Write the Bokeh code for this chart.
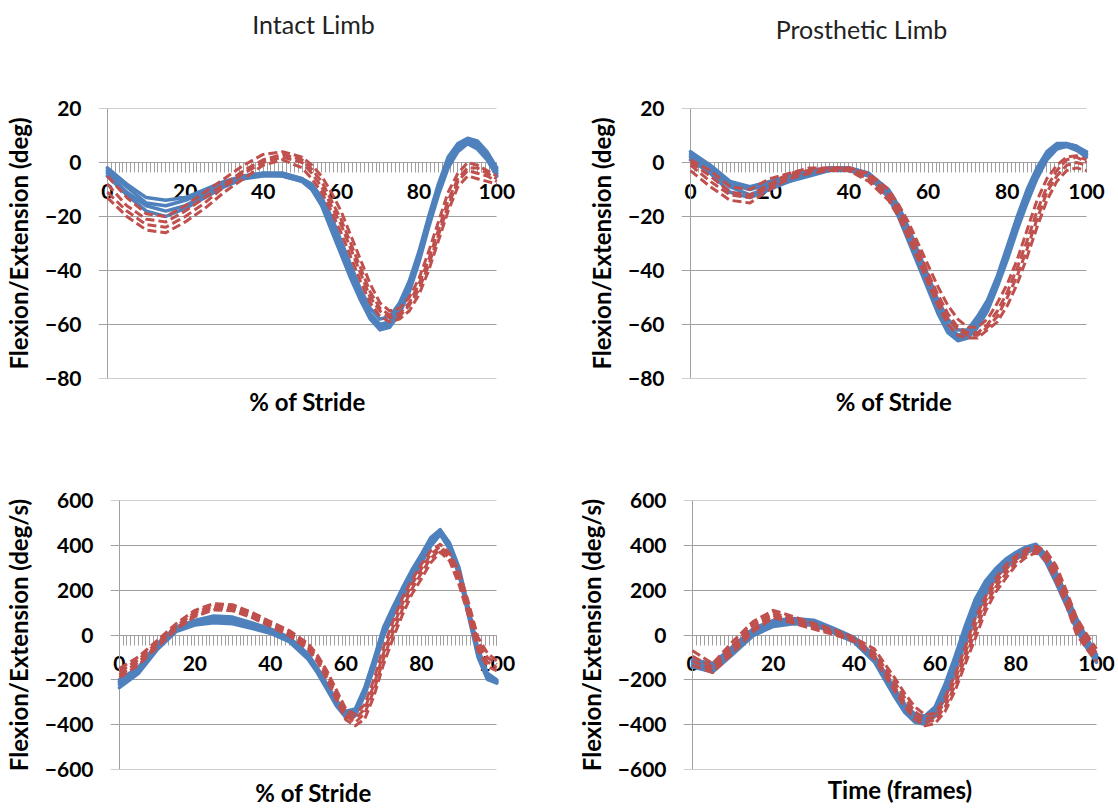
from bokeh.plotting import figure
from bokeh.layouts import column, row
from bokeh.models import Range1d, LinearAxis, SingleIntervalTicker, FixedTicker, Label
from bokeh.embed import file_html
from bokeh.resources import INLINE

# ---------------- data ----------------
X_PCT = [0, 5, 10, 15, 20, 25, 30, 35, 40, 45, 50,
         52.5, 55, 57.5, 60, 62.5, 65, 67.5, 70, 72.5, 75,
         77.5, 80, 82.5, 85, 87.5, 90, 92.5, 95, 97.5, 100]

# Intact limb – angle (deg)
INTACT_ANGLE_BLUE = [
    [-2, -8, -13, -14, -13, -10, -7, -5, -4, -4, -6, -8, -13, -20, -29, -38, -47, -54, -58, -57, -52, -44, -33, -20, -8, 2, 7, 9, 8, 4, -2],
    [-3, -9, -15, -16, -14, -11, -8, -5, -4, -4, -6, -9, -14, -22, -31, -40, -49, -56, -60, -59, -54, -46, -35, -22, -10, 0, 6, 8.5, 7, 3, -3],
    [-4, -11, -16, -18, -16, -12, -8, -6, -4, -5, -7, -10, -15, -23, -32, -41, -50, -57, -61, -60, -55, -47, -36, -23, -11, -1, 5, 8, 6, 2, -4],
    [-5, -12, -18, -20, -17, -13, -9, -6, -5, -5, -7, -10, -16, -25, -34, -43, -51, -58, -62, -61, -56, -48, -37, -24, -12, -2, 4, 7, 5, 1, -5],
]
INTACT_ANGLE_RED = [
    [-5, -13, -19, -20, -16, -11, -6, -1, 3, 4, 2, -1, -5, -11, -18, -27, -36, -45, -52, -55, -54, -50, -43, -33, -22, -11, -4, 0, -1, -3, -5],
    [-8, -16, -21, -22, -18, -13, -8, -3, 1, 3, 1, -2.5, -7, -14, -21, -30, -39, -48, -54, -56.5, -56, -52, -45, -36, -25, -14, -6, -2, -2, -4, -6],
    [-11, -18, -23, -24, -20, -15, -9, -4, 0, 2, 0, -4, -9, -16, -23, -32, -41, -50, -55, -57.5, -57, -53, -47, -38, -27, -16, -7, -3, -4, -5, -7],
    [-13, -20, -25, -26, -22, -17, -11, -6, -1, 1, -2, -6, -11, -18, -26, -35, -44, -52, -57, -59, -58, -55, -49, -40, -29, -18, -9, -5, -6, -7, -8],
]

# Prosthetic limb – angle (deg)
PROSTH_ANGLE_BLUE = [
    [4, -1, -7, -9, -7, -5, -3, -2, -2, -4, -10, -16, -24, -33, -42, -51, -58, -62, -62, -57, -51, -42, -31, -20, -10, -2, 4, 7, 7, 6, 4],
    [3, -2, -8, -10, -8, -6, -4, -2, -2, -4, -11, -17, -26, -35, -44, -53, -60, -64, -63, -59, -52, -43, -33, -22, -12, -4, 3, 6.5, 7, 6, 3],
    [2, -3, -9, -12, -9, -7, -4, -3, -2, -5, -12, -18, -27, -37, -46, -55, -62, -65, -64, -60, -54, -45, -34, -23, -13, -5, 2, 5.5, 6, 5, 3],
    [1, -4, -11, -13, -10, -7, -5, -3, -3, -5, -13, -20, -29, -38, -47, -56, -63, -66, -65, -61, -55, -46, -36, -25, -15, -6, 1, 5, 6, 4.5, 2],
]
PROSTH_ANGLE_RED = [
    [1, -3, -9, -10, -6, -4, -2, -2, -2, -4, -10, -15.5, -22, -30, -38, -46, -53, -58, -61, -61, -58, -52, -45, -36, -25, -14, -6, -1, 2, 2.5, 1],
    [0, -5, -11, -12, -8, -4, -3, -2, -2, -5, -12, -17.5, -24, -32, -41, -49, -56, -61, -63, -63, -60, -55, -48, -39, -29, -18, -9, -3, 1, 2, 0],
    [-1, -7, -12, -13, -9, -5, -3, -3, -3, -6, -13, -19, -26, -34, -43, -51, -58, -62, -64, -64, -61, -57, -50, -42, -32, -21, -11, -5, -1, 0, -1],
    [-3, -9, -14, -15, -10, -6, -4, -3, -3, -7, -14, -20, -28, -36, -45, -53, -60, -64, -65, -65, -62, -59, -53, -45, -35, -24, -14, -7, -3, -2, -3],
]

# Intact limb – angular velocity (deg/s)
INTACT_VEL_BLUE = [
    [-200, -145, -40, 35, 65, 85, 80, 55, 28, -10, -85, -148, -220, -292, -340, -330, -235, -105, 35, 125, 210, 290, 360, 435, 470, 410, 300, 120, -60, -170, -200],
    [-210, -155, -50, 28, 58, 75, 70, 45, 20, -18, -92, -155, -228, -300, -350, -340, -248, -120, 20, 110, 195, 275, 345, 420, 462, 400, 290, 110, -72, -180, -205],
    [-220, -162, -58, 22, 50, 65, 60, 38, 14, -24, -100, -162, -235, -308, -358, -350, -258, -132, 8, 98, 182, 262, 332, 408, 455, 392, 278, 98, -85, -190, -210],
    [-235, -172, -66, 15, 44, 55, 50, 30, 8, -30, -108, -170, -242, -316, -368, -360, -268, -145, -5, 85, 170, 250, 320, 396, 448, 384, 268, 85, -98, -198, -215],
]
INTACT_VEL_RED = [
    [-150, -98, -25, 50, 110, 140, 135, 102, 60, 20, -38, -90, -160, -245, -330, -355, -310, -195, -55, 60, 165, 245, 315, 375, 405, 365, 285, 145, -10, -80, -115],
    [-165, -110, -35, 40, 100, 130, 125, 93, 52, 12, -47, -100, -172, -260, -345, -375, -330, -220, -80, 35, 140, 225, 295, 360, 395, 355, 265, 125, -30, -100, -130],
    [-178, -122, -45, 32, 90, 120, 116, 85, 44, 4, -55, -110, -185, -275, -360, -390, -350, -245, -105, 10, 115, 205, 275, 342, 382, 342, 245, 105, -50, -120, -145],
    [-190, -135, -55, 24, 82, 112, 108, 78, 38, -4, -64, -120, -198, -290, -378, -405, -375, -270, -130, -15, 90, 182, 250, 322, 370, 330, 225, 85, -70, -140, -160],
]

# Prosthetic limb – angular velocity (deg/s)
PROSTH_VEL_BLUE = [
    [-110, -128, -50, 28, 65, 74, 66, 30, -10, -92, -238, -308, -352, -362, -322, -220, -95, 40, 160, 240, 295, 338, 368, 392, 405, 358, 280, 180, 78, -10, -88],
    [-122, -142, -62, 18, 56, 66, 59, 23, -16, -100, -250, -320, -365, -375, -335, -240, -115, 15, 135, 220, 282, 325, 358, 385, 398, 345, 265, 165, 60, -25, -100],
    [-132, -155, -74, 8, 47, 58, 51, 16, -24, -110, -262, -332, -375, -386, -348, -262, -140, -10, 110, 200, 268, 312, 348, 376, 392, 335, 250, 150, 42, -40, -110],
    [-142, -165, -86, -3, 38, 50, 44, 9, -32, -120, -275, -345, -388, -398, -362, -282, -160, -35, 85, 180, 255, 300, 338, 366, 385, 325, 232, 132, 25, -55, -122],
]
PROSTH_VEL_RED = [
    [-70, -128, -28, 60, 110, 82, 52, 24, -12, -62, -190, -260, -320, -355, -350, -280, -178, -55, 75, 170, 250, 310, 352, 382, 396, 375, 310, 200, 80, 5, -62],
    [-95, -142, -45, 45, 98, 72, 43, 16, -18, -78, -210, -280, -340, -375, -365, -300, -200, -80, 45, 150, 232, 290, 338, 370, 388, 362, 290, 180, 55, -15, -80],
    [-115, -155, -62, 30, 88, 62, 35, 8, -22, -92, -230, -300, -358, -390, -380, -322, -225, -105, 15, 128, 212, 272, 325, 358, 378, 348, 265, 158, 30, -38, -100],
    [-135, -168, -80, 15, 78, 52, 26, 2, -28, -105, -248, -318, -376, -405, -395, -342, -248, -130, -15, 105, 190, 252, 310, 345, 368, 332, 240, 135, 5, -60, -118],
]

COLUMN_TITLES = ["Intact Limb", "Prosthetic Limb"]

# ---------------- styling ----------------
BLUE = "#4F81BD"
RED = "#C0504D"
GRAY = "#a0a0a0"
FONT = "Lato"
HEADER_H = 46
EXT_L = 9     # gridlines reach this far left of the value axis
EXT_R = 20    # room for the "100" label at the right end


def make_panel(width, height, data_left, data_right, top, bottom, yrange, ystep,
               blue, red, xlabel, ylabel, xlabel_standoff=8):
    ppu = (data_right - data_left) / 100.0
    frame_left = data_left - EXT_L
    frame_right = data_right + EXT_R
    x0 = -EXT_L / ppu
    x1 = 100 + EXT_R / ppu
    p = figure(width=width, height=height,
               x_range=Range1d(x0, x1), y_range=Range1d(*yrange),
               output_backend="svg", toolbar_location=None,
               min_border_left=frame_left, min_border_right=width - frame_right,
               min_border_top=top, min_border_bottom=bottom)
    p.outline_line_color = None
    p.background_fill_color = "white"
    p.border_fill_color = "white"
    p.xgrid.visible = False
    p.ygrid.visible = False

    # value-axis labels (at the frame edge, where the gridlines start)
    ya = p.yaxis[0]
    ya.ticker = SingleIntervalTicker(interval=ystep)
    ya.axis_line_color = None
    ya.major_tick_line_color = None
    ya.major_tick_out = 0
    ya.major_tick_in = 0
    ya.minor_tick_line_color = None
    ya.major_label_text_font = FONT
    ya.major_label_text_font_style = "bold"
    ya.major_label_text_font_size = "21px"
    ya.major_label_text_color = "black"
    ya.major_label_standoff = 13
    ya.axis_label = ylabel
    ya.axis_label_text_font = FONT
    ya.axis_label_text_font_style = "bold"
    ya.axis_label_text_font_size = "24px"
    ya.axis_label_text_color = "black"
    ya.axis_label_standoff = 9

    # vertical axis line at x = 0
    yline = LinearAxis(fixed_location=0, ticker=FixedTicker(ticks=[]),
                       axis_line_color=GRAY, major_tick_line_color=None,
                       minor_tick_line_color=None, level="underlay")
    p.add_layout(yline, "left")

    # horizontal gridlines (from the tick-out position to x = 100)
    for v in range(yrange[0], yrange[1] + 1, ystep):
        g = LinearAxis(fixed_location=v, bounds=(x0, 100), ticker=FixedTicker(ticks=[]),
                       axis_line_color=GRAY, major_tick_line_color=None,
                       minor_tick_line_color=None, level="underlay")
        p.add_layout(g, "below")

    # bottom axis carrying only the title
    xa = p.xaxis[0]
    xa.ticker = FixedTicker(ticks=[])
    xa.bounds = (0, 100)
    xa.axis_line_color = None
    xa.major_tick_line_color = None
    xa.minor_tick_line_color = None
    xa.major_tick_out = 0
    xa.major_tick_in = 0
    xa.axis_label = xlabel
    xa.axis_label_text_font = FONT
    xa.axis_label_text_font_style = "bold"
    xa.axis_label_text_font_size = "24px"
    xa.axis_label_text_color = "black"
    xa.axis_label_standoff = xlabel_standoff

    # x axis crossing at zero with dense tick marks
    za = LinearAxis(fixed_location=0, bounds=(0, 100),
                    ticker=SingleIntervalTicker(interval=20, num_minor_ticks=20),
                    level="underlay")
    za.axis_line_color = GRAY
    za.major_tick_line_color = GRAY
    za.minor_tick_line_color = GRAY
    za.major_tick_out = 10
    za.major_tick_in = 0
    za.minor_tick_out = 10
    za.minor_tick_in = 0
    za.major_label_text_font = FONT
    za.major_label_text_font_style = "bold"
    za.major_label_text_font_size = "21px"
    za.major_label_text_color = "black"
    za.major_label_standoff = 11
    p.add_layout(za, "below")

    for ys in blue:
        p.line(X_PCT, ys, line_color=BLUE, line_width=3.5,
               line_join="round", line_cap="round")
    for ys in red:
        p.line(X_PCT, ys, line_color=RED, line_width=3,
               line_dash="9 4", line_join="round")
    return p


# header with the two column titles
header = figure(width=1118, height=HEADER_H, x_range=Range1d(0, 1118),
                y_range=Range1d(HEADER_H, 0), x_axis_type=None, y_axis_type=None,
                output_backend="svg", toolbar_location=None,
                min_border_left=0, min_border_right=0, min_border_top=0, min_border_bottom=0)
header.outline_line_color = None
header.grid.visible = False
for txt, cx, cy in zip(COLUMN_TITLES, [313, 861], [23, 28]):
    header.add_layout(Label(x=cx, y=cy, text=txt, text_align="center", text_baseline="middle",
                            text_font=FONT, text_font_size="25px", text_color="#222222"))

top_h = 420 - HEADER_H
top_b = 108 - HEADER_H
p1 = make_panel(560, top_h, 100, 496, top_b, 42, (-80, 20), 20,
                INTACT_ANGLE_BLUE, INTACT_ANGLE_RED,
                "% of Stride", "Flexion/Extension (deg)")
p2 = make_panel(558, top_h, 690 - 560, 1086 - 560, top_b, 42, (-80, 20), 20,
                PROSTH_ANGLE_BLUE, PROSTH_ANGLE_RED,
                "% of Stride", "Flexion/Extension (deg)")
p3 = make_panel(560, 389, 113, 496, 80, 39, (-600, 600), 200,
                INTACT_VEL_BLUE, INTACT_VEL_RED,
                "% of Stride", "Flexion/Extension (deg/s)")
p4 = make_panel(558, 389, 692 - 560, 1096 - 560, 80, 32, (-600, 600), 200,
                PROSTH_VEL_BLUE, PROSTH_VEL_RED,
                "Time (frames)", "Flexion/Extension (deg/s)", xlabel_standoff=5)

layout = column(header, row(p1, p2), row(p3, p4))

open("out.html", "w").write(file_html(layout, INLINE))
